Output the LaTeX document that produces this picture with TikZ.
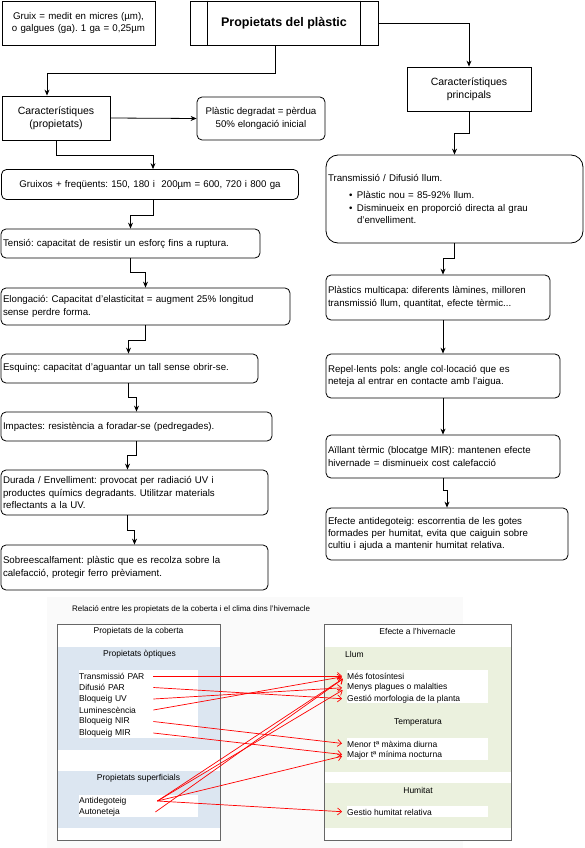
\documentclass[tikz,border=0pt]{standalone}
\usepackage{fontspec}
\setmainfont{Liberation Sans}
\usepackage{tikz}
\usetikzlibrary{arrows.meta}
\usepackage{xcolor}
\definecolor{bandablava}{HTML}{DCE6F1}
\definecolor{bandaverda}{HTML}{EBF1DE}
\definecolor{fonsgris}{HTML}{FAFAFA}
\definecolor{voragris}{HTML}{666666}
\frenchspacing

\begin{document}
\begin{tikzpicture}[x=1pt,y=-1pt]
\useasboundingbox (0,0) rectangle (584,848);

				% esquema de propietats
				\begin{scope}[every node/.style={draw,line width=0.8pt,rounded corners=5pt,
						inner xsep=2pt,inner ysep=1pt,align=left,
						font=\fontsize{9.7}{12.3}\selectfont}]
					\node[sharp corners,align=center,minimum width=153,minimum height=44,text width=149pt] (gruix) at (78.5,23) {Gruix = medit en micres (µm),\\o galgues (ga). 1 ga = 0,25µm};
					\node[sharp corners,minimum width=188,minimum height=44,font=\bfseries\fontsize{12.5}{14}\selectfont] (titol) at (284,23) {Propietats del plàstic};
					\node[sharp corners,align=center,minimum width=108,minimum height=44,font=\fontsize{10.5}{13}\selectfont] (car) at (56,118) {Característiques\\(propietats)};
					\node[align=center,minimum width=128,minimum height=43] (degr) at (261,118.5) {Plàstic degradat = pèrdua\\50\% elongació inicial};
					\node[sharp corners,align=center,minimum width=124,minimum height=44,font=\fontsize{10.5}{13}\selectfont] (carp) at (469,89) {Característiques\\principals};

					\node[align=center,minimum width=297,minimum height=30,text width=293pt] (gru) at (150,184.5) {Gruixos + freqüents: 150, 180 i\ \ 200µm = 600, 720 i 800 ga};
					\node[minimum width=259,minimum height=29,text width=255pt] (tens) at (130.5,243.5) {Tensió: capacitat de resistir un esforç fins a ruptura.};
					\node[minimum width=289,minimum height=37,text width=285pt] (elon) at (145.5,306.5) {Elongació: Capacitat d'elasticitat = augment 25\% longitud\\sense perdre forma.};
					\node[minimum width=257,minimum height=29,text width=253pt] (esq) at (129.5,368.5) {Esquinç: capacitat d'aguantar un tall sense obrir-se.};
					\node[minimum width=271,minimum height=29,text width=267pt] (imp) at (136.5,426.5) {Impactes: resistència a foradar-se (pedregades).};
					\node[minimum width=267,minimum height=45,text width=263pt] (dur) at (134.5,492.5) {Durada / Envelliment: provocat per radiació UV i\\productes químics degradants. Utilitzar materials\\reflectants a la UV.};
					\node[minimum width=267,minimum height=45,text width=263pt] (sob) at (134.5,567.5) {Sobreescalfament: plàstic que es recolza sobre la\\calefacció, protegir ferro prèviament.};

					\node[rounded corners=12pt,minimum width=257,minimum height=88,text width=253pt] (trans) at (454.5,199) {Transmissió / Difusió llum.\\[5pt]
						\hspace*{21pt}\makebox[8pt][l]{\textbullet}Plàstic nou = 85-92\% llum.\\
						\hspace*{21pt}\makebox[8pt][l]{\textbullet}Disminueix en proporció directa al grau\\
						\hspace*{29pt}d'envelliment.};
					\node[minimum width=224,minimum height=45,text width=220pt] (multi) at (438,297.5) {Plàstics multicapa: diferents làmines, milloren\\transmissió llum, quantitat, efecte tèrmic...};
					\node[minimum width=234,minimum height=44,text width=230pt] (rep) at (443,376) {Repel·lents pols: angle col·locació que es\\neteja al entrar en contacte amb l'aigua.};
					\node[minimum width=234,minimum height=43,text width=230pt] (aill) at (443,456.5) {Aïllant tèrmic (blocatge MIR): mantenen efecte\\hivernade = disminueix cost calefacció};
					\node[minimum width=242,minimum height=52,text width=238pt] (efe) at (447,534) {Efecte antidegoteig: escorrentia de les gotes\\formades per humitat, evita que caiguin sobre\\cultiu i ajuda a mantenir humitat relativa.};
				\end{scope}
				\draw[line width=0.8pt] ([xshift=18pt]titol.north west) -- ([xshift=18pt]titol.south west);
				\draw[line width=0.8pt] ([xshift=-18pt]titol.north east) -- ([xshift=-18pt]titol.south east);

				\begin{scope}[>={Stealth[black,length=6pt,width=5pt]},line width=0.8pt]
					\draw[->] ([xshift=-9pt]titol.south) -- ++(0,28) -| ([xshift=-9pt]car.north);
					\draw[->] (titol.east) -| (carp.north);
					\draw[->] (car.east) -- (degr.west);
					\draw[->] (car.south) -- ++(0,15) -| ([xshift=3pt]gru.north);
					\draw[->] ([xshift=3pt]gru.south) -- ++(0,15) -| (tens.north);
					\draw[->] (tens.south) -- ++(0,14) -| (elon.north);
					\draw[->] (elon.south) -- ++(0,15) -| ([xshift=-1pt]esq.north);
					\draw[->] ([xshift=-1pt]esq.south) -- ++(0,14) -| (imp.north);
					\draw[->] (imp.south) -- ++(0,14) -| ([xshift=-7pt]dur.north);
					\draw[->] ([xshift=-7pt]dur.south) -- ++(0,15) -| (sob.north);

					\draw[->] (carp.south) -- ++(0,22) -| (trans.north);
					\draw[->] (trans.south) -- ++(0,15) -| ([xshift=5pt]multi.north);
					\draw[->] (rep.north |- multi.south) -- (rep.north);
					\draw[->] (rep.south) -- (aill.north);
					\draw[->] (aill.south) -- ++(0,12) -| (efe.north);
				\end{scope}

				% relacio coberta - clima
				\fill[fonsgris] (47,597) rectangle (463,848);
				\node[anchor=west,inner sep=0pt,font=\fontsize{8}{9}\selectfont] (rel) at (72,609) {Relació entre les propietats de la coberta i el clima dins l'hivernacle};

				\draw[voragris,fill=white,line width=0.9pt] (57,624) rectangle (220,840);
				\fill[bandablava] (57.5,647) rectangle (219.5,750);
				\fill[bandablava] (57.5,771) rectangle (219.5,828);
				\fill[white] (79,670) rectangle (198,738);
				\fill[white] (79,795) rectangle (198,817);

				\draw[voragris,fill=white,line width=0.9pt] (324,624) rectangle (511,840);
				\fill[bandaverda] (324.5,647) rectangle (510.5,772);
				\fill[bandaverda] (324.5,783) rectangle (510.5,828);
				\fill[white] (347,670) rectangle (488,703);
				\fill[white] (347,738) rectangle (488,760);
				\fill[white] (347,806) rectangle (488,817);

				\begin{scope}[every node/.style={inner sep=0pt,font=\fontsize{8.5}{10}\selectfont}]
					\node (pcob) at (138.5,631) {Propietats de la coberta};
					\node (popt) at (139.5,654) {Propietats òptiques};
					\node (psup) at (138.5,778) {Propietats superficials};
					\node (ehiv) at (417.5,631) {Efecte a l'hivernacle};
					\node[anchor=west] (llum) at (345,654) {Llum};
					\node (temp) at (418,722) {Temperatura};
					\node (humi) at (418,790) {Humitat};
				\end{scope}

				\begin{scope}[every node/.style={anchor=west,inner sep=0pt,text width=74pt,align=left,font=\fontsize{8.5}{10}\selectfont}]
					\node (tpar) at (79,676) {Transmissió PAR};
					\node (dpar) at (79,687.5) {Difusió PAR};
					\node (buv) at (79,699) {Bloqueig UV};
					\node (lumi) at (79,710) {Luminescència};
					\node (bnir) at (79,721.5) {Bloqueig NIR};
					\node (bmir) at (79,733) {Bloqueig MIR};
					\node (anti) at (79,801) {Antidegoteig};
					\node (auto) at (79,812) {Autoneteja};
				\end{scope}

				\begin{scope}[every node/.style={anchor=west,inner sep=0pt,font=\fontsize{8.5}{10}\selectfont}]
					\node (mfot) at (347,676) {Més fotosíntesi};
					\node (mpla) at (347,687.5) {Menys plagues o malalties};
					\node (gmor) at (347,699) {Gestió morfologia de la planta};
					\node (mmax) at (347,744) {Menor tª màxima diurna};
					\node (mmin) at (347,755) {Major tª mínima nocturna};
					\node (ghum) at (347,812) {Gestio humitat relativa};
				\end{scope}

				\begin{scope}[>={Straight Barb[red,length=4pt,width=7pt]},
					every edge/.style={draw=red,line width=0.7pt,shorten >=5pt}]
					\path [->] (tpar.east) edge (mfot.west);
					\path [->] (dpar.east) edge (gmor.west);
					\path [->] (buv.east) edge (mpla.west);
					\path [->] (lumi.east) edge (mfot.west);
					\path [->] (bnir.east) edge (mmax.west);
					\path [->] (bmir.east) edge (mmin.west);
					\path [->] ([xshift=4pt]anti.east) edge (mfot.west);
					\path [->] ([xshift=4pt]anti.east) edge (mpla.west);
					\path [->] ([xshift=4pt]anti.east) edge (mmin.west);
					\path [->] ([xshift=4pt]anti.east) edge (ghum.west);
					\path [->] ([xshift=2pt]auto.east) edge (mfot.west);
				\end{scope}
\end{tikzpicture}
\end{document}
